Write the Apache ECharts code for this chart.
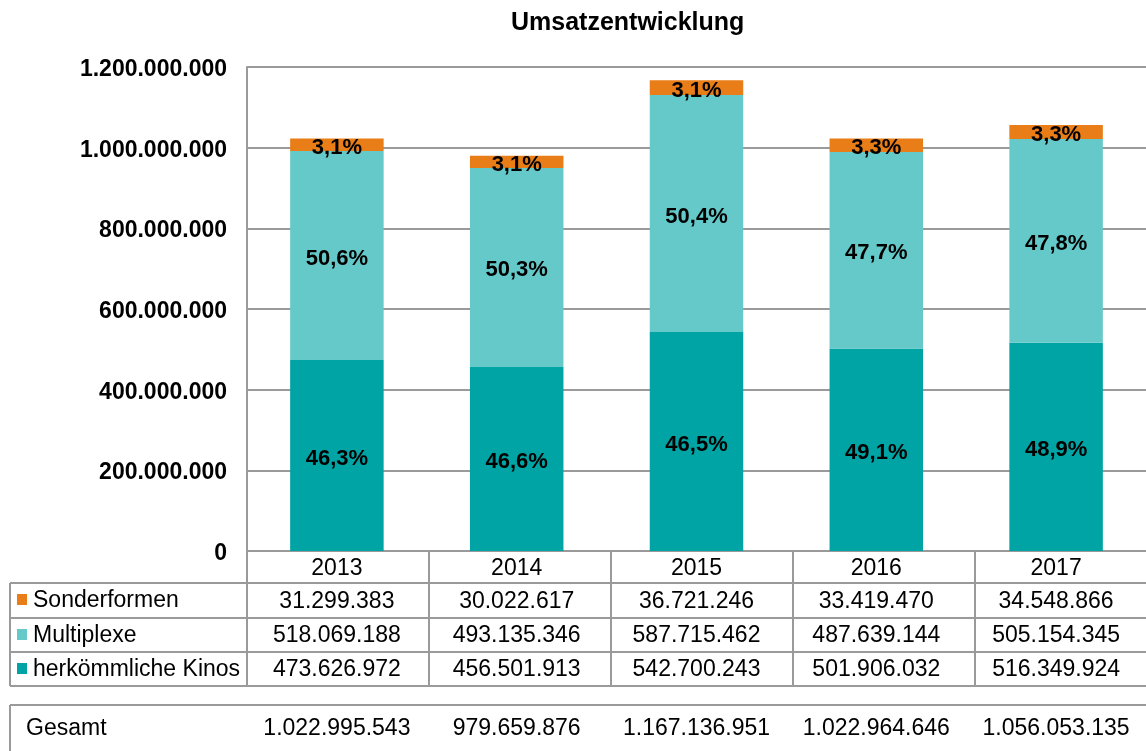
<!DOCTYPE html>
<html>
<head>
<meta charset="utf-8">
<script src="https://cdn.jsdelivr.net/npm/echarts@6/dist/echarts.min.js"></script>
<style>
html,body{margin:0;padding:0;background:#fff;}
#c{width:1146px;height:751px;}
</style>
</head>
<body>
<div id="c"></div>
<script>
const years = ['2013', '2014', '2015', '2016', '2017'];
const seriesNames = ['Sonderformen', 'Multiplexe', 'herkömmliche Kinos'];
const sonderformen = [31299383, 30022617, 36721246, 33419470, 34548866];
const multiplexe = [518069188, 493135346, 587715462, 487639144, 505154345];
const herkoemmliche = [473626972, 456501913, 542700243, 501906032, 516349924];
const gesamt = [1022995543, 979659876, 1167136951, 1022964646, 1056053135];
const pctSonder = ['3,1%', '3,1%', '3,1%', '3,3%', '3,3%'];
const pctMulti = ['50,6%', '50,3%', '50,4%', '47,7%', '47,8%'];
const pctHerk = ['46,3%', '46,6%', '46,5%', '49,1%', '48,9%'];
const yMin = 0, yMax = 1200000000, yStep = 200000000;

const colors = { sonder: '#E97D17', multi: '#66C9C9', herk: '#00A4A4' };
const FONT = 'Liberation Sans, Arial, sans-serif';
const LINE = '#9a9a9a';
const TFS = 23;

function fmt(n) { return String(n).replace(/\B(?=(\d{3})+(?!\d))/g, '.'); }

const G = { left: 247, top: 67, width: 910, height: 484 };
const catW = G.width / years.length;
const bottomY = G.top + G.height;

function rowAxis(values, offset) {
  return {
    type: 'category', gridIndex: 0, position: 'bottom', offset: offset,
    data: values.map(fmt),
    axisLine: { show: false }, axisTick: { show: false }, splitLine: { show: false },
    axisLabel: { margin: 0, fontSize: TFS, lineHeight: TFS, color: '#000', fontFamily: FONT, interval: 0 }
  };
}

const chart = echarts.init(document.getElementById('c'), null, { renderer: 'canvas' });

const graphics = [];
graphics.push({ type: 'text', left: 511, top: 11, style: { text: 'Umsatzentwicklung', font: 'bold 25px ' + FONT, fill: '#000' } });
// table horizontal lines
[583, 618, 652, 686].forEach(y => graphics.push({ type: 'line', shape: { x1: 10, y1: y, x2: 1146, y2: y }, style: { stroke: LINE, lineWidth: 2 } }));
graphics.push({ type: 'line', shape: { x1: 10, y1: 583, x2: 10, y2: 686 }, style: { stroke: LINE, lineWidth: 2 } });
for (let i = 0; i <= years.length; i++) {
  const x = Math.round(G.left + i * catW);
  graphics.push({ type: 'line', shape: { x1: x, y1: bottomY, x2: x, y2: 686 }, style: { stroke: LINE, lineWidth: 2 } });
}
// Gesamt box
graphics.push({ type: 'line', shape: { x1: 10, y1: 705, x2: 1146, y2: 705 }, style: { stroke: LINE, lineWidth: 2 } });
graphics.push({ type: 'line', shape: { x1: 10, y1: 705, x2: 10, y2: 751 }, style: { stroke: LINE, lineWidth: 2 } });
graphics.push({ type: 'text', left: 26, top: 717, style: { text: 'Gesamt', font: TFS + 'px ' + FONT, fill: '#000' } });
// legend keys in table
const rowCenters = [600, 635, 669];
const keyColors = [colors.sonder, colors.multi, colors.herk];
seriesNames.forEach((n, i) => {
  graphics.push({ type: 'rect', shape: { x: 17, y: rowCenters[i] - 6, width: 10, height: 11 }, style: { fill: keyColors[i] } });
  graphics.push({ type: 'text', left: 33, top: rowCenters[i] - 11, style: { text: n, font: TFS + 'px ' + FONT, fill: '#000' } });
});

function lbl(arr) {
  return { show: true, position: 'inside', offset: [0, 3], formatter: p => arr[p.dataIndex], fontSize: 22, fontWeight: 'bold', color: '#000', fontFamily: FONT };
}

const option = {
  animation: false,
  backgroundColor: '#fff',
  grid: G,
  xAxis: [
    {
      type: 'category', data: years, gridIndex: 0,
      axisLine: { show: true, lineStyle: { color: LINE, width: 2 } },
      axisTick: { show: false },
      axisLabel: { margin: 6, fontSize: TFS, lineHeight: TFS, color: '#000', fontFamily: FONT }
    },
    rowAxis(sonderformen, 39),
    rowAxis(multiplexe, 73.5),
    rowAxis(herkoemmliche, 107.5),
    rowAxis(gesamt, 166.5)
  ],
  yAxis: {
    type: 'value', min: yMin, max: yMax, interval: yStep,
    axisLine: { show: true, lineStyle: { color: LINE, width: 2 } },
    axisTick: { show: false },
    splitLine: { show: true, lineStyle: { color: LINE, width: 2 } },
    axisLabel: {
      margin: 20, color: '#000', formatter: v => '{v|' + fmt(v) + '}',
      rich: { v: { fontSize: 23, fontWeight: 'bold', color: '#000', fontFamily: FONT, lineHeight: 23, padding: [5, 0, 0, 0] } }
    }
  },
  series: [
    { name: 'herkömmliche Kinos', type: 'bar', stack: 't', barWidth: '52%', data: herkoemmliche, itemStyle: { color: colors.herk }, label: lbl(pctHerk) },
    { name: 'Multiplexe', type: 'bar', stack: 't', data: multiplexe, itemStyle: { color: colors.multi }, label: lbl(pctMulti) },
    { name: 'Sonderformen', type: 'bar', stack: 't', data: sonderformen, itemStyle: { color: colors.sonder }, label: lbl(pctSonder) }
  ],
  graphic: graphics
};
chart.setOption(option);
</script>
</body>
</html>
